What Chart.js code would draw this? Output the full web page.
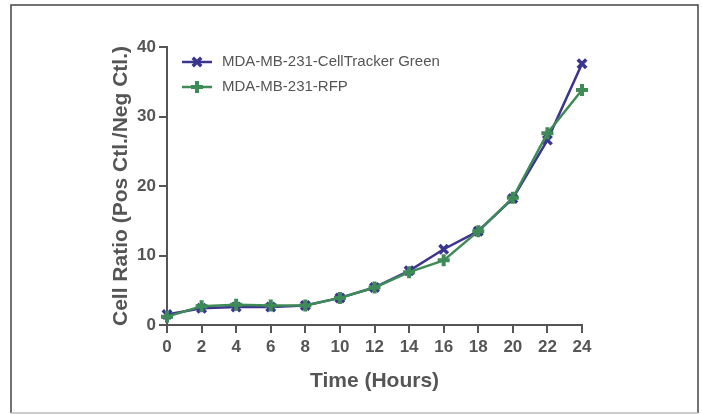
<!DOCTYPE html>
<html>
<head>
<meta charset="utf-8">
<script src="https://cdn.jsdelivr.net/npm/chart.js@4"></script>
<style>
  html, body { margin: 0; padding: 0; background: #fff; }
  #wrap { width: 702px; height: 414px; }
</style>
</head>
<body>
<div id="wrap"><canvas id="chart"></canvas></div>
<script>
const hours = [0, 2, 4, 6, 8, 10, 12, 14, 16, 18, 20, 22, 24];
const cellTrackerGreen = [1.5, 2.4, 2.6, 2.6, 2.8, 3.9, 5.4, 7.8, 10.9, 13.5, 18.2, 26.6, 37.6];
const rfp = [1.2, 2.7, 2.9, 2.8, 2.8, 3.9, 5.4, 7.6, 9.3, 13.5, 18.3, 27.6, 33.8];
const seriesNames = ["MDA-MB-231-CellTracker Green", "MDA-MB-231-RFP"];
const xTicks = [0, 2, 4, 6, 8, 10, 12, 14, 16, 18, 20, 22, 24];
const yTicks = [0, 10, 20, 30, 40];

const FONT = "'Liberation Sans', Arial, Helvetica, sans-serif";
const AXIS = "#555555";

const toXY = (vals) => vals.map((v, i) => ({ x: hours[i], y: v }));

// frame around the figure
const framePlugin = {
  id: "frame",
  afterDraw(chart) {
    const ctx = chart.ctx;
    ctx.save();
    ctx.lineWidth = 1.5;
    ctx.strokeStyle = "#444";
    ctx.beginPath();
    ctx.moveTo(11, 413);
    ctx.lineTo(11, 5);
    ctx.lineTo(698, 5);
    ctx.lineTo(698, 413);
    ctx.stroke();
    ctx.strokeStyle = "#bbb";
    ctx.beginPath();
    ctx.moveTo(11, 413);
    ctx.lineTo(698, 413);
    ctx.stroke();
    ctx.restore();
  }
};

// legend inside the plot: line sample with marker, then label
const insideLegend = {
  id: "insideLegend",
  afterDatasetsDraw(chart) {
    const ctx = chart.ctx;
    const left = chart.chartArea.left;
    const top = chart.chartArea.top;
    ctx.save();
    chart.data.datasets.forEach((ds, i) => {
      const y = top + 15 + i * 25;
      const x0 = left + 15, x1 = left + 45;
      ctx.strokeStyle = ds.borderColor;
      ctx.lineWidth = ds.borderWidth;
      ctx.beginPath();
      ctx.moveTo(x0, y);
      ctx.lineTo(x1, y);
      ctx.stroke();
      ctx.lineWidth = ds.pointBorderWidth;
      ctx.fillStyle = ds.borderColor;
      Chart.helpers.drawPoint(ctx, {
        pointStyle: ds.pointStyle,
        radius: ds.pointRadius,
        rotation: 0,
        borderWidth: ds.pointBorderWidth
      }, (x0 + x1) / 2, y);
      ctx.fillStyle = AXIS;
      ctx.font = "15px " + FONT;
      ctx.textBaseline = "middle";
      ctx.textAlign = "left";
      ctx.fillText(ds.label, left + 55, y);
    });
    ctx.restore();
  }
};

new Chart(document.getElementById("chart"), {
  type: "line",
  data: {
    datasets: [
      {
        label: seriesNames[0],
        data: toXY(cellTrackerGreen),
        borderColor: "#3b358f",
        backgroundColor: "#3b358f",
        borderWidth: 2.5,
        pointStyle: "crossRot",
        pointRadius: 6,
        pointBorderWidth: 3.5,
        tension: 0,
        clip: false,
        order: 1
      },
      {
        label: seriesNames[1],
        data: toXY(rfp),
        borderColor: "#3f8b57",
        backgroundColor: "#3f8b57",
        borderWidth: 2.5,
        pointStyle: "cross",
        pointRadius: 6,
        pointBorderWidth: 4,
        tension: 0,
        clip: false,
        order: 0
      }
    ]
  },
  options: {
    responsive: true,
    maintainAspectRatio: false,
    animation: false,
    layout: { padding: { top: 47, left: 102, right: 120, bottom: 0 } },
    plugins: {
      legend: { display: false },
      tooltip: { enabled: false }
    },
    scales: {
      x: {
        type: "linear",
        min: 0,
        max: 24,
        afterBuildTicks: (scale) => { scale.ticks = xTicks.map((v) => ({ value: v })); },
        afterFit: (scale) => { scale.height = 89; },
        grid: { drawOnChartArea: false, drawTicks: true, tickLength: 8, color: AXIS, lineWidth: 2 },
        border: { display: true, color: AXIS, width: 2 },
        ticks: { color: AXIS, font: { family: FONT, size: 17, weight: "bold" }, padding: 4, maxRotation: 0 },
        title: {
          display: true,
          text: "Time (Hours)",
          color: AXIS,
          font: { family: FONT, size: 21, weight: "bold" },
          padding: { top: 0, bottom: 20 }
        }
      },
      y: {
        min: 0,
        max: 40,
        afterBuildTicks: (scale) => { scale.ticks = yTicks.map((v) => ({ value: v })); },
        afterFit: (scale) => { scale.width = 65; },
        grid: { drawOnChartArea: false, drawTicks: true, tickLength: 8, color: AXIS, lineWidth: 2 },
        border: { display: true, color: AXIS, width: 2 },
        ticks: { color: AXIS, font: { family: FONT, size: 17, weight: "bold" }, padding: 3 },
        title: {
          display: true,
          text: "Cell Ratio (Pos Ctl./Neg Ctl.)",
          color: AXIS,
          font: { family: FONT, size: 21, weight: "bold" },
          padding: { top: 7, bottom: 0 }
        }
      }
    }
  },
  plugins: [framePlugin, insideLegend]
});
</script>
</body>
</html>
